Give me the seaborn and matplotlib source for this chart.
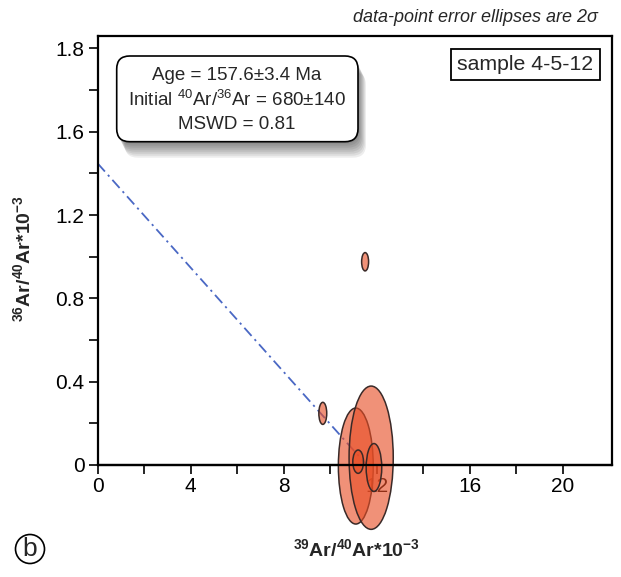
import numpy as np
import pandas as pd
import matplotlib
matplotlib.use("Agg")
import matplotlib.pyplot as plt
import seaborn as sns
from matplotlib.patches import Ellipse, FancyBboxPatch, Circle, Rectangle
from matplotlib.transforms import IdentityTransform

# ---- data ----
x_center = [9.68, 11.50, 11.10, 11.76, 11.20, 11.88]
y_center = [0.248, 0.976, -0.005, 0.035, 0.016, -0.012]
ell_width = [0.34, 0.30, 1.50, 1.90, 0.46, 0.67]
ell_height = [0.106, 0.088, 0.557, 0.688, 0.112, 0.23]
line_x = [0.0, 11.57]
line_y = [1.448, 0.0]
xtick_pos = [0, 2, 4, 6, 8, 10, 12, 14, 16, 18, 20]
xtick_lab = ["0", "", "4", "", "8", "", "12", "", "16", "", "20"]
ytick_pos = [0, 0.2, 0.4, 0.6, 0.8, 1.0, 1.2, 1.4, 1.6, 1.8, 2.0]
ytick_lab = ["0", "", "0.4", "", "0.8", "", "1.2", "", "1.6", "", "1.8"]
box_lines = ["Age = 157.6\u00b13.4 Ma",
             "Initial $^{40}$Ar/$^{36}$Ar = 680\u00b1140",
             "MSWD = 0.81"]

sns.set_theme(style="white")
plt.rcParams['font.family'] = ['Liberation Sans', 'DejaVu Sans']
plt.rcParams['mathtext.fontset'] = 'custom'
plt.rcParams['mathtext.rm'] = 'Liberation Sans'
plt.rcParams['mathtext.it'] = 'Liberation Sans:italic'
plt.rcParams['mathtext.bf'] = 'Liberation Sans:bold'

W, H = 621, 577
fig = plt.figure(figsize=(W / 100, H / 100), dpi=100)
fig.patch.set_facecolor("white")
ax = fig.add_axes([97.7 / W, 1 - 465 / H, (612.3 - 97.7) / W, (465 - 36) / H])

df_line = pd.DataFrame({"x": line_x, "y": line_y})
sns.lineplot(data=df_line, x="x", y="y", ax=ax, color="#4a68c4", lw=1.3,
             linestyle=(0, (6, 2.5, 1.2, 2.5)), zorder=2)

fill = (232 / 255, 78 / 255, 38 / 255, 0.62)
for xc, yc, w, h in zip(x_center, y_center, ell_width, ell_height):
    e = Ellipse((xc, yc), w, h, facecolor=fill, edgecolor="#3a2a28",
                lw=1.1, zorder=3, clip_on=False)
    ax.add_patch(e)

ax.axhline(0, color="black", lw=1.6, zorder=4, clip_on=False)

ax.set_xlim(0, 22.13)
ax.set_ylim(0, 2.06)
ax.set_xticks(xtick_pos)
ax.set_xticklabels(xtick_lab)
ax.set_yticks(ytick_pos)
ax.set_yticklabels(ytick_lab)
ax.tick_params(direction="out", length=6.5, width=1.2, labelsize=15,
               colors="black", pad=2, bottom=True, left=True)
ax.tick_params(axis="y", pad=3)
for s in ax.spines.values():
    s.set_visible(True)
    s.set_color("black")
    s.set_linewidth(1.6)
ax.set_xlabel("")
ax.set_ylabel("")
ax.grid(False)

# axis labels
fig.text(357 / W, 1 - 549 / H, r"$\mathbf{^{39}Ar/^{40}Ar{*}10^{-3}}$",
         ha="center", va="center", fontsize=14)
fig.text(23 / W, 1 - 258 / H, r"$\mathbf{^{36}Ar/^{40}Ar{*}10^{-3}}$",
         ha="center", va="center", fontsize=14, rotation=90)

# top note
fig.text(598 / W, 1 - 18 / H, "data-point error ellipses are 2\u03c3",
         ha="right", va="center", fontsize=13, style="italic")

# result box with shadow
idt = IdentityTransform()
bx0, bx1 = 116.7, 358.0
by0, by1 = H - 141.7, H - 56.0
for i in range(1, 9):
    sh = FancyBboxPatch((bx0 + i * 1.0, by0 - i * 2.0), bx1 - bx0, by1 - by0,
                        boxstyle="round,pad=0,rounding_size=13",
                        facecolor=(0, 0, 0, 0.07), edgecolor="none",
                        transform=idt, zorder=5)
    fig.patches.append(sh)
box = FancyBboxPatch((bx0, by0), bx1 - bx0, by1 - by0,
                     boxstyle="round,pad=0,rounding_size=13",
                     facecolor="white", edgecolor="black", lw=1.2,
                     transform=idt, zorder=6)
fig.patches.append(box)
for yy, t in zip([75, 100, 125], box_lines):
    fig.text(237 / W, 1 - yy / H, t, ha="center", va="center",
             fontsize=13.5, zorder=7)

# sample box
sb = Rectangle((451, H - 80), 149, 31, transform=idt, facecolor="white",
               edgecolor="black", lw=1.3, zorder=5)
fig.patches.append(sb)
fig.text(525 / W, 1 - 64.5 / H, "sample 4-5-12", ha="center", va="center",
         fontsize=15.3, zorder=6)

# circled b
c = Circle((30, H - 549), 14.5, transform=idt, facecolor="none",
           edgecolor="black", lw=1.2)
fig.patches.append(c)
fig.text(30 / W, 1 - 549 / H, "b", ha="center", va="center", fontsize=19)

fig.savefig("out.png", dpi=100)
